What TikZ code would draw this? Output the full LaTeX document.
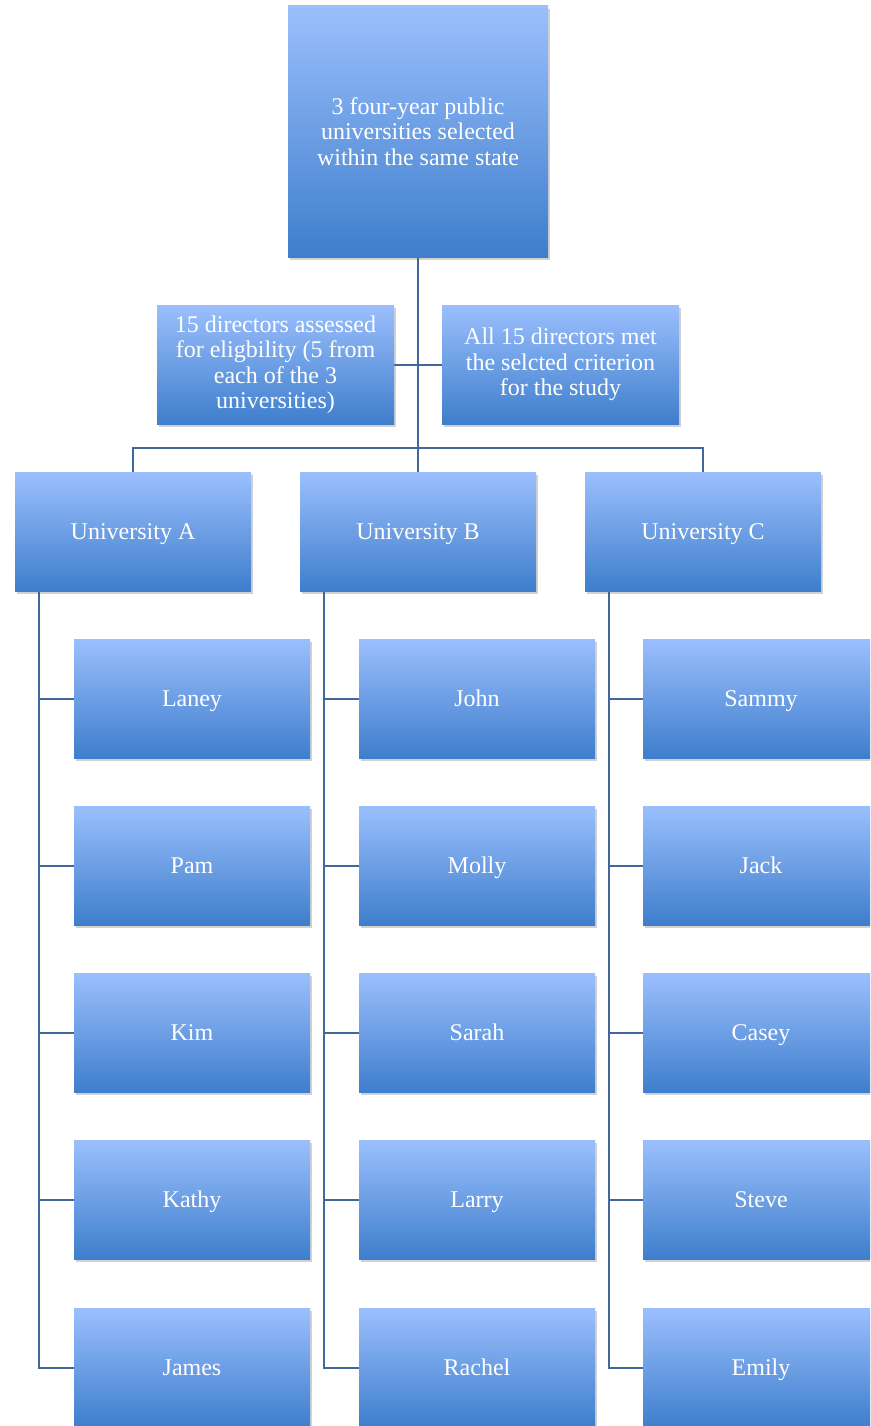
\documentclass[tikz,border=0pt]{standalone}
\usepackage{fontspec}
\setmainfont{Liberation Serif}
\usetikzlibrary{shadows,backgrounds}
\definecolor{boxtop}{HTML}{9BBFFD}
\definecolor{boxbot}{HTML}{3E7ECC}
\definecolor{linec}{HTML}{41679B}
\begin{document}
\begin{tikzpicture}[x=1pt,y=-1pt,
  box/.style={rectangle, top color=boxtop, bottom color=boxbot, draw=none,
    minimum width=236pt, minimum height=119pt, inner sep=0pt, text=white,
    font=\fontsize{24}{25.5}\selectfont, align=center,
    drop shadow={shadow xshift=2pt, shadow yshift=-3pt, opacity=0.3, fill=black!60}},
  onebox/.style={box, text height=18pt, text depth=3pt},
  conn/.style={draw=linec, line width=2pt}]
\clip (0,0) rectangle (870,1426);
\useasboundingbox (0,0) rectangle (870,1426);
% top level
\node[box, minimum width=260pt, minimum height=251pt] (top) at (418,131.5)
  {3 four-year public\\universities selected\\within the same state};
\node[box, minimum width=237pt] (m1) at (275.5,364.5)
  {15 directors assessed\\for eligbility (5 from\\each of the 3\\universities)};
\node[box, minimum width=237pt] (m2) at (560.5,364.5)
  {All 15 directors met\\the selcted criterion\\for the study};
% universities
\node[onebox] (ua) at (133,531.5) {University A};
\node[onebox] (ub) at (418,531.5) {University B};
\node[onebox] (uc) at (703,531.5) {University C};
% university A
\node[onebox] (a1) at (192,698.5) {Laney};
\node[onebox] (a2) at (192,865.5) {Pam};
\node[onebox] (a3) at (192,1032.5) {Kim};
\node[onebox] (a4) at (192,1199.5) {Kathy};
\node[onebox] (a5) at (192,1367.5) {James};
% university B
\node[onebox] (b1) at (477,698.5) {John};
\node[onebox] (b2) at (477,865.5) {Molly};
\node[onebox] (b3) at (477,1032.5) {Sarah};
\node[onebox] (b4) at (477,1199.5) {Larry};
\node[onebox] (b5) at (477,1367.5) {Rachel};
% university C
\node[onebox] (c1) at (761,698.5) {Sammy};
\node[onebox] (c2) at (761,865.5) {Jack};
\node[onebox] (c3) at (761,1032.5) {Casey};
\node[onebox] (c4) at (761,1199.5) {Steve};
\node[onebox] (c5) at (761,1367.5) {Emily};
\begin{scope}[on background layer]
  \coordinate (bus) at (418,448);
  \draw[conn] (top.south) -- (ub.north);
  \draw[conn] (m1.east) -- (m2.west);
  \draw[conn] (ua.north) -- (ua.north |- bus) -- (uc.north |- bus) -- (uc.north);
  \foreach \u/\c in {ua/a,ub/b,uc/c}{
    \coordinate (r\u) at ([xshift=24pt]\u.south west);
    \draw[conn] (r\u) |- (\c5.west);
    \foreach \i in {1,2,3,4}{
      \draw[conn] (r\u |- \c\i.west) -- (\c\i.west);
    }
  }
\end{scope}
\end{tikzpicture}
\end{document}
